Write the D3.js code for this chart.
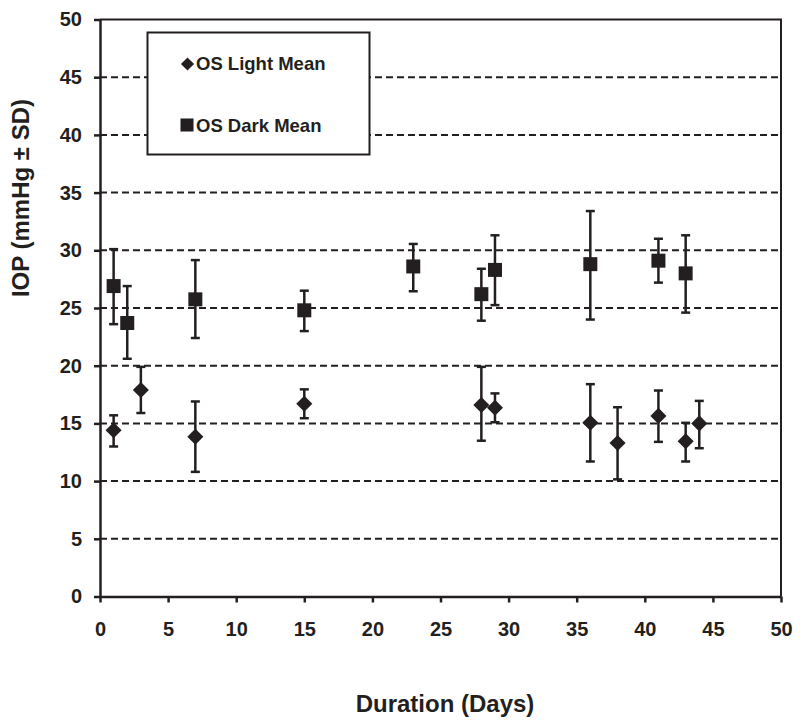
<!DOCTYPE html>
<html>
<head>
<meta charset="utf-8">
<script src="https://cdn.jsdelivr.net/npm/d3@7"></script>
<style>
  body { margin: 0; background: #fff; }
  text { font-family: "Liberation Sans", Arial, sans-serif; font-weight: bold; fill: #231f20; }
</style>
</head>
<body>
<svg id="chart" width="800" height="725"></svg>
<script>
// OS Light Mean (diamonds)
let lightDays = [1, 3, 7, 15, 28, 29, 36, 38, 41, 43, 44];
let lightMean = [14.4, 17.9, 13.85, 16.7, 16.6, 16.35, 15.05, 13.3, 15.65, 13.45, 15.0];
let lightLow  = [13.0, 15.9, 10.8, 15.45, 13.5, 15.1, 11.7, 10.15, 13.4, 11.7, 12.85];
let lightHigh = [15.7, 19.9, 16.9, 17.95, 19.9, 17.6, 18.4, 16.4, 17.85, 15.05, 16.95];

// OS Dark Mean (squares)
let darkDays = [1, 2, 7, 15, 23, 28, 29, 36, 41, 43];
let darkMean = [26.9, 23.7, 25.75, 24.8, 28.6, 26.2, 28.3, 28.8, 29.1, 28.0];
let darkLow  = [23.6, 20.6, 22.4, 23.0, 26.45, 23.9, 25.25, 24.0, 27.2, 24.6];
let darkHigh = [30.1, 26.9, 29.15, 26.5, 30.55, 28.4, 31.3, 33.4, 31.0, 31.3];

let xTicks = [0, 5, 10, 15, 20, 25, 30, 35, 40, 45, 50];
let yTicks = [0, 5, 10, 15, 20, 25, 30, 35, 40, 45, 50];

let ink = '#231f20';
let svg = d3.select('#chart');

let x = d3.scaleLinear().domain([0, 50]).range([100, 781]);
let y = d3.scaleLinear().domain([0, 50]).range([596.5, 19.5]);

// dashed gridlines
svg.append('g')
  .selectAll('line')
  .data(yTicks.filter(d => d > 0 && d < 50))
  .enter()
  .append('line')
  .attr('x1', x(0))
  .attr('x2', x(50))
  .attr('y1', d => y(d))
  .attr('y2', d => y(d))
  .attr('stroke', ink)
  .attr('stroke-width', 2)
  .attr('stroke-dasharray', '7,4');

// frame top and right
svg.append('path')
  .attr('d', `M${x(0)},${y(50)}H${x(50)}V${y(0)}`)
  .attr('fill', 'none')
  .attr('stroke', ink)
  .attr('stroke-width', 2);

let xAxis = svg.append('g')
  .attr('transform', `translate(0,${y(0)})`)
  .call(d3.axisBottom(x).tickValues(xTicks).tickSize(6).tickSizeOuter(0).tickPadding(19));

let yAxis = svg.append('g')
  .attr('transform', `translate(${x(0)},0)`)
  .call(d3.axisLeft(y).tickValues(yTicks).tickSize(6).tickSizeOuter(0).tickPadding(12));

for (let ax of [xAxis, yAxis]) {
  ax.select('.domain').attr('stroke', ink).attr('stroke-width', 2.5);
  ax.selectAll('.tick line').attr('stroke', ink).attr('stroke-width', 2.5);
  ax.selectAll('.tick text')
    .style('font-family', '"Liberation Sans", Arial, sans-serif')
    .style('font-weight', 'bold')
    .style('font-size', '20px')
    .attr('fill', ink);
}

function toPoints(days, mean, low, high) {
  return days.map((d, i) => ({day: d, mean: mean[i], low: low[i], high: high[i]}));
}

let light = toPoints(lightDays, lightMean, lightLow, lightHigh);
let dark = toPoints(darkDays, darkMean, darkLow, darkHigh);

function errorBars(data) {
  let g = svg.append('g').attr('stroke', ink).attr('stroke-width', 2.5);
  let cap = 4.5;
  g.selectAll('.v').data(data).enter().append('line')
    .attr('x1', d => x(d.day)).attr('x2', d => x(d.day))
    .attr('y1', d => y(d.low)).attr('y2', d => y(d.high));
  g.selectAll('.t').data(data).enter().append('line')
    .attr('x1', d => x(d.day) - cap).attr('x2', d => x(d.day) + cap)
    .attr('y1', d => y(d.high)).attr('y2', d => y(d.high));
  g.selectAll('.b').data(data).enter().append('line')
    .attr('x1', d => x(d.day) - cap).attr('x2', d => x(d.day) + cap)
    .attr('y1', d => y(d.low)).attr('y2', d => y(d.low));
}

errorBars(light);
errorBars(dark);

let diamond = d3.symbol().type(d3.symbolDiamond2).size(165);
let square = d3.symbol().type(d3.symbolSquare).size(196);

svg.append('g')
  .selectAll('path')
  .data(light)
  .enter()
  .append('path')
  .attr('d', diamond)
  .attr('transform', d => `translate(${x(d.day)},${y(d.mean)})`)
  .attr('fill', ink);

svg.append('g')
  .selectAll('path')
  .data(dark)
  .enter()
  .append('path')
  .attr('d', square)
  .attr('transform', d => `translate(${x(d.day)},${y(d.mean)})`)
  .attr('fill', ink);

// legend
let legend = svg.append('g');
legend.append('rect')
  .attr('x', 147.5).attr('y', 32.5)
  .attr('width', 222).attr('height', 122)
  .attr('fill', '#fff')
  .attr('stroke', ink)
  .attr('stroke-width', 2);

legend.append('path')
  .attr('d', d3.symbol().type(d3.symbolDiamond2).size(110))
  .attr('transform', 'translate(187.5,64)')
  .attr('fill', ink);
legend.append('text')
  .attr('x', 196).attr('y', 70)
  .style('font-size', '18.5px')
  .text('OS Light Mean');

legend.append('path')
  .attr('d', d3.symbol().type(d3.symbolSquare).size(170))
  .attr('transform', 'translate(187,125)')
  .attr('fill', ink);
legend.append('text')
  .attr('x', 196).attr('y', 131.5)
  .style('font-size', '18.5px')
  .text('OS Dark Mean');

// axis titles
svg.append('text')
  .attr('x', 445).attr('y', 712)
  .attr('text-anchor', 'middle')
  .style('font-size', '24px')
  .text('Duration (Days)');

svg.append('text')
  .attr('transform', 'translate(29,198) rotate(-90)')
  .attr('text-anchor', 'middle')
  .style('font-size', '24px')
  .text('IOP (mmHg ± SD)');
</script>
</body>
</html>
